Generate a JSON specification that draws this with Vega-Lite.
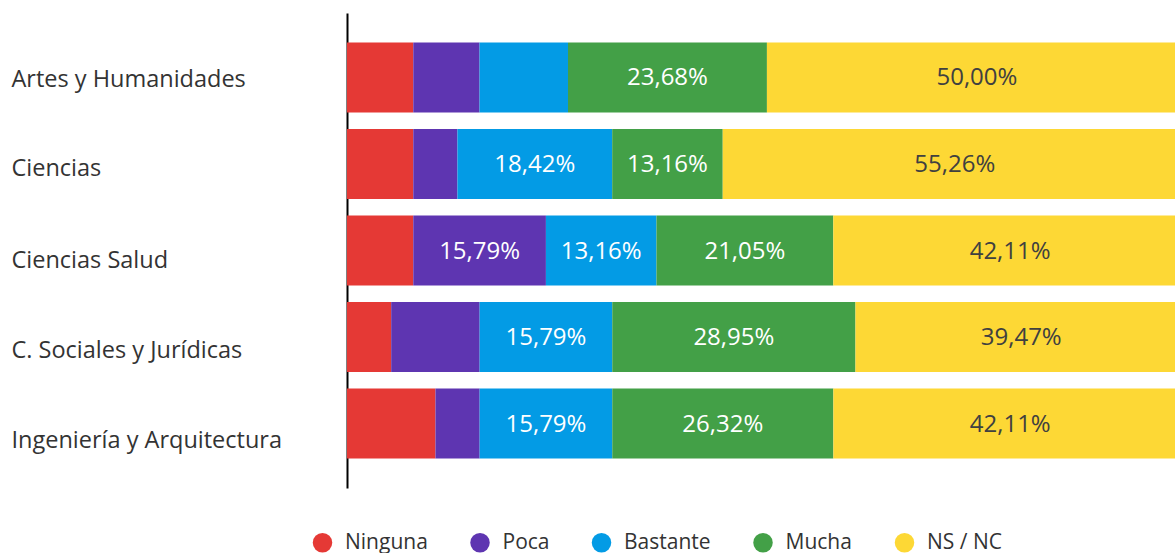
{
  "$schema": "https://vega.github.io/schema/vega-lite/v6.json",
  "autosize": {"type": "none"},
  "width": 828,
  "height": 475,
  "padding": {"left": 347, "top": 13, "right": 0, "bottom": 65},
  "background": "white",
  "config": {
    "view": {"stroke": null},
    "font": "Open Sans",
    "locale": {"number": {"decimal": ",", "thousands": ".", "grouping": [3], "currency": ["", " €"]}}
  },
  "data": {"values": [
    {"area": "Artes y Humanidades", "cat": "Ninguna", "value": 0.0789},
    {"area": "Artes y Humanidades", "cat": "Poca", "value": 0.0789},
    {"area": "Artes y Humanidades", "cat": "Bastante", "value": 0.1053},
    {"area": "Artes y Humanidades", "cat": "Mucha", "value": 0.2368},
    {"area": "Artes y Humanidades", "cat": "NS / NC", "value": 0.5000},
    {"area": "Ciencias", "cat": "Ninguna", "value": 0.0789},
    {"area": "Ciencias", "cat": "Poca", "value": 0.0526},
    {"area": "Ciencias", "cat": "Bastante", "value": 0.1842},
    {"area": "Ciencias", "cat": "Mucha", "value": 0.1316},
    {"area": "Ciencias", "cat": "NS / NC", "value": 0.5526},
    {"area": "Ciencias Salud", "cat": "Ninguna", "value": 0.0789},
    {"area": "Ciencias Salud", "cat": "Poca", "value": 0.1579},
    {"area": "Ciencias Salud", "cat": "Bastante", "value": 0.1316},
    {"area": "Ciencias Salud", "cat": "Mucha", "value": 0.2105},
    {"area": "Ciencias Salud", "cat": "NS / NC", "value": 0.4211},
    {"area": "C. Sociales y Jurídicas", "cat": "Ninguna", "value": 0.0526},
    {"area": "C. Sociales y Jurídicas", "cat": "Poca", "value": 0.1053},
    {"area": "C. Sociales y Jurídicas", "cat": "Bastante", "value": 0.1579},
    {"area": "C. Sociales y Jurídicas", "cat": "Mucha", "value": 0.2895},
    {"area": "C. Sociales y Jurídicas", "cat": "NS / NC", "value": 0.3947},
    {"area": "Ingeniería y Arquitectura", "cat": "Ninguna", "value": 0.1053},
    {"area": "Ingeniería y Arquitectura", "cat": "Poca", "value": 0.0526},
    {"area": "Ingeniería y Arquitectura", "cat": "Bastante", "value": 0.1579},
    {"area": "Ingeniería y Arquitectura", "cat": "Mucha", "value": 0.2632},
    {"area": "Ingeniería y Arquitectura", "cat": "NS / NC", "value": 0.4211}
  ]},
  "transform": [
    {"calculate": "indexof(['Ninguna','Poca','Bastante','Mucha','NS / NC'], datum.cat)", "as": "ord"},
    {"stack": "value", "groupby": ["area"], "sort": [{"field": "ord", "order": "ascending"}], "as": ["v0", "v1"]},
    {"calculate": "(datum.v0 + datum.v1) / 2", "as": "mid"}
  ],
  "encoding": {
    "y": {
      "field": "area", "type": "nominal", "sort": null,
      "scale": {"paddingInner": 0.19, "paddingOuter": 0.34},
      "axis": {
        "title": null, "ticks": false, "grid": false,
        "domainColor": "#000000", "domainWidth": 2,
        "labelAlign": "left", "labelPadding": 336, "labelFontSize": 23.5,
        "labelColor": "#333333", "labelFont": "Open Sans", "labelLimit": 0,
        "labelOffset": {
          "condition": [
            {"test": "datum.value === 'Ciencias'", "value": 5.5},
            {"test": "datum.value === 'Ciencias Salud'", "value": 10.5},
            {"test": "datum.value === 'C. Sociales y Jurídicas'", "value": 13.5},
            {"test": "datum.value === 'Ingeniería y Arquitectura'", "value": 17.5}
          ],
          "value": 2.5
        }
      }
    }
  },
  "layer": [
    {
      "mark": {"type": "bar", "clip": true},
      "encoding": {
        "x": {"field": "v0", "type": "quantitative", "scale": {"domain": [0, 0.9857], "nice": false, "zero": true}, "axis": null},
        "x2": {"field": "v1"},
        "color": {
          "field": "cat", "type": "nominal",
          "scale": {
            "domain": ["Ninguna", "Poca", "Bastante", "Mucha", "NS / NC"],
            "range": ["#E53935", "#5E35B1", "#039BE5", "#43A047", "#FDD835"]
          },
          "legend": {
            "title": null, "orient": "none", "direction": "horizontal",
            "legendX": -35, "legendY": 519,
            "symbolType": "circle", "symbolSize": 380, "symbolStrokeWidth": 0,
            "labelFontSize": 21, "labelColor": "#333333", "labelFont": "Open Sans",
            "labelOffset": 12, "columnPadding": 41.5, "padding": 0
          }
        }
      }
    },
    {
      "transform": [{"filter": "datum.value > 0.12"}],
      "mark": {"type": "text", "fontSize": 24, "font": "Open Sans", "baseline": "middle", "align": "center", "dy": 1},
      "encoding": {
        "x": {"field": "mid", "type": "quantitative", "scale": {"domain": [0, 0.9857], "nice": false, "zero": true}},
        "text": {"field": "value", "type": "quantitative", "format": ".2%"},
        "color": {
          "condition": {"test": "datum.cat === 'NS / NC'", "value": "#404040"},
          "value": "#ffffff"
        }
      }
    }
  ]
}
